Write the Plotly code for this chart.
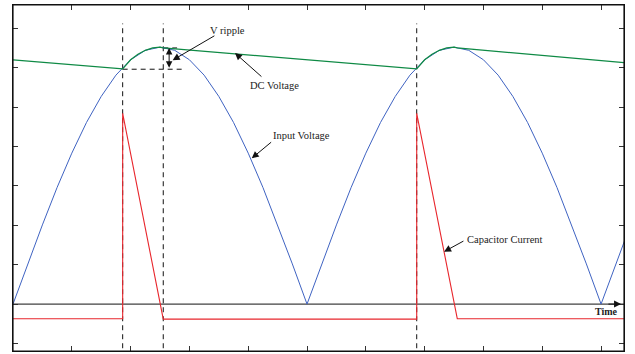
import plotly.graph_objects as go

# ---- data (time in ms, values in arbitrary units) ----
t_input = [0, 0.5, 1, 1.5, 2, 2.5, 3, 3.5, 4, 4.5, 5, 5.5, 6, 6.5, 7, 7.5, 8, 8.5, 9, 9.5, 10,
           10.5, 11, 11.5, 12, 12.5, 13, 13.5, 14, 14.5, 15, 15.5, 16, 16.5, 17, 17.5, 18, 18.5, 19, 19.5, 20,
           20.5, 21]
v_input = [0, 1.02, 2.01, 2.96, 3.83, 4.61, 5.27, 5.81, 6.20, 6.44, 6.52, 6.44, 6.20, 5.81, 5.27, 4.61, 3.83, 2.96, 2.01, 1.02, 0,
           1.02, 2.01, 2.96, 3.83, 4.61, 5.27, 5.81, 6.20, 6.44, 6.52, 6.44, 6.20, 5.81, 5.27, 4.61, 3.83, 2.96, 2.01, 1.02, 0,
           1.02, 2.01]

t_dc = [0, 3.73, 4.0, 4.25, 4.5, 4.75, 5.0, 5.11, 13.73, 14.0, 14.25, 14.5, 14.75, 15.0, 15.11, 20.78]
v_dc = [6.20, 5.97, 6.20, 6.34, 6.44, 6.50, 6.52, 6.50, 5.97, 6.20, 6.34, 6.44, 6.50, 6.52, 6.50, 6.13]

t_cap = [0, 3.73, 3.73, 5.11, 13.73, 13.73, 15.11, 20.78]
v_cap = [-0.37, -0.37, 4.84, -0.38, -0.38, 4.84, -0.37, -0.37]

dash_x = [3.73, 5.11, 13.73]
dash_y_range = [-1.12, 7.12]
ripple_low = 5.96
ripple_high = 6.50

x_ticks = [2, 4, 6, 8, 10, 12, 14, 16, 18, 20]
y_ticks = [-1, 0, 1, 2, 3, 4, 5, 6, 7]

X_RANGE = [0, 20.78]
Y_RANGE = [-1.19, 7.59]

BLUE = "#3f63c2"
GREEN = "#0f8a45"
RED = "#e8262c"
FONT = "Liberation Serif"

fig = go.Figure()

# time axis line
fig.add_trace(go.Scatter(x=[0, 20.78], y=[0, 0], mode="lines",
                         line=dict(color="#111111", width=1), hoverinfo="skip"))

# dashed guide lines
for xd in dash_x:
    fig.add_trace(go.Scatter(x=[xd, xd], y=dash_y_range, mode="lines",
                             line=dict(color="#111111", width=1, dash="5px,4px"), hoverinfo="skip"))
fig.add_trace(go.Scatter(x=[3.73, 5.78], y=[ripple_low, ripple_low], mode="lines",
                         line=dict(color="#111111", width=1, dash="5px,4px"), hoverinfo="skip"))
fig.add_trace(go.Scatter(x=[5.11, 5.58], y=[ripple_high, ripple_high], mode="lines",
                         line=dict(color="#111111", width=1, dash="5px,4px"), hoverinfo="skip"))

fig.add_trace(go.Scatter(x=t_cap, y=v_cap, mode="lines", name="Capacitor Current",
                         line=dict(color=RED, width=1.1)))
fig.add_trace(go.Scatter(x=t_input, y=v_input, mode="lines", name="Input Voltage",
                         line=dict(color=BLUE, width=1)))
fig.add_trace(go.Scatter(x=t_dc, y=v_dc, mode="lines", name="DC Voltage",
                         line=dict(color=GREEN, width=1.2)))

ann_font = dict(family=FONT, size=10.5, color="#222222")
arrow_common = dict(showarrow=True, arrowhead=2, arrowsize=1.4, arrowwidth=1,
                    arrowcolor="#111111", axref="x", ayref="y", xref="x", yref="y", text="")

annotations = [
    dict(x=7.31, y=6.94, text="V ripple", showarrow=False, font=ann_font, xref="x", yref="y"),
    dict(x=5.43, y=6.19, ax=6.90, ay=6.83, **arrow_common),
    dict(x=5.31, y=ripple_high, ax=5.31, ay=ripple_low, showarrow=True, arrowhead=2,
         startarrowhead=2, arrowside="end+start", arrowsize=1.3, startarrowsize=1.3,
         arrowwidth=1, arrowcolor="#111111", axref="x", ayref="y", xref="x", yref="y", text=""),
    dict(x=8.91, y=5.56, text="DC Voltage", showarrow=False, font=ann_font, xref="x", yref="y"),
    dict(x=7.55, y=6.37, ax=8.50, ay=5.74, **arrow_common),
    dict(x=9.80, y=4.29, text="Input Voltage", showarrow=False, font=ann_font, xref="x", yref="y"),
    dict(x=8.12, y=3.70, ax=8.83, ay=4.14, **arrow_common),
    dict(x=15.38, y=1.64, text="Capacitor Current", showarrow=False, font=ann_font,
         xref="x", yref="y", xanchor="left"),
    dict(x=14.66, y=1.33, ax=15.37, ay=1.62, **arrow_common),
    dict(x=20.68, y=0, ax=20.2, ay=0, **arrow_common),
    dict(x=20.2, y=-0.2, text="<b>Time</b>", showarrow=False,
         font=dict(family=FONT, size=10, color="#222222"), xref="x", yref="y"),
]

axis_common = dict(showline=True, linecolor="#111111", linewidth=1, mirror="ticks",
                   ticks="inside", ticklen=5, tickcolor="#333333", tickwidth=1,
                   showticklabels=False, showgrid=False, zeroline=False, fixedrange=True)

fig.update_layout(
    width=635, height=354,
    margin=dict(l=13, r=11, t=5, b=3),
    paper_bgcolor="white", plot_bgcolor="white",
    showlegend=False,
    xaxis=dict(range=X_RANGE, tickvals=x_ticks, **axis_common),
    yaxis=dict(range=Y_RANGE, tickvals=y_ticks, **axis_common),
    annotations=annotations,
    shapes=[dict(type="rect", xref="paper", yref="paper", x0=0, x1=1, y0=0, y1=1,
                 line=dict(color="#111111", width=1.2), layer="above")],
)

fig.write_html("out.html", config={"displayModeBar": False},
               post_script="document.body.style.margin='0';document.body.style.overflow='hidden';")
